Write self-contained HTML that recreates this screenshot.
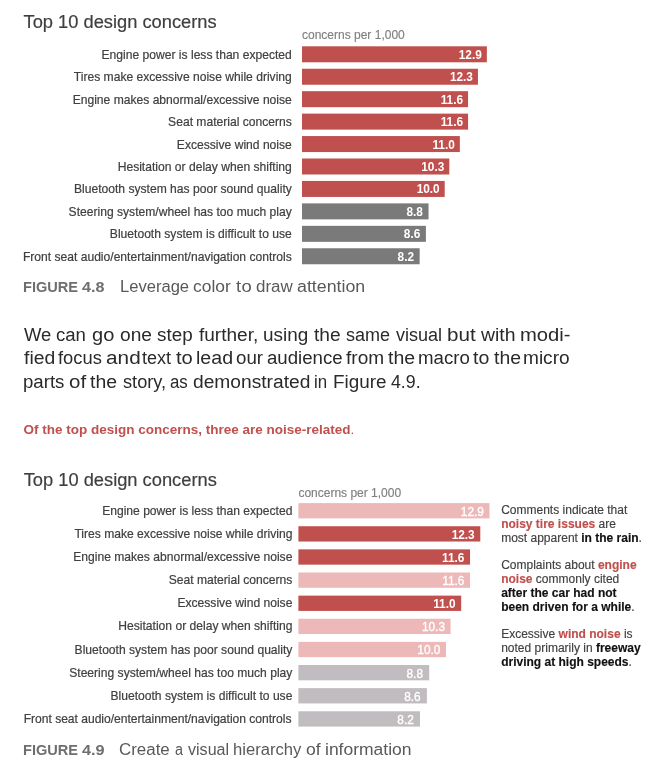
<!DOCTYPE html>
<html lang="en">
<head>
<meta charset="utf-8">
<title>Top 10 design concerns</title>
<style>
html,body{margin:0;padding:0;background:#fff;}
body{width:668px;height:776px;position:relative;overflow:hidden;font-family:"Liberation Sans",Arial,Helvetica,sans-serif;color:#404040;}
.bars{position:absolute;left:0;top:0;}
.lab{-webkit-text-stroke:0.2px currentColor;position:absolute;text-align:right;font-size:12.1px;line-height:14px;white-space:nowrap;color:#404040;}
.val{position:absolute;text-align:right;font-size:11.85px;line-height:14px;white-space:nowrap;color:#fff;}
.val.b{font-weight:bold;}
.val:not(.b){-webkit-text-stroke:0.35px #fff;}
.t{position:absolute;white-space:nowrap;}
.w{position:absolute;top:0;transform-origin:0 0;white-space:nowrap;}
.title{color:#3f3f3f;-webkit-text-stroke:0.2px currentColor;}
.axis{color:#808080;-webkit-text-stroke:0.15px currentColor;}
.fig{color:#6e6e6e;}
.cap{color:#595959;}
.body{color:#2a2a2a;}
.redline{color:#c0504d;}
.ann{color:#404040;-webkit-text-stroke:0.15px currentColor;}
.ann b.r{color:#c0504d;}
.ann b.k{color:#111;}
</style>
</head>
<body>
<svg class="bars" width="668" height="776" viewBox="0 0 668 776">
<rect x="302.00" y="46.30" width="184.85" height="16.00" fill="#c0504d"/>
<rect x="302.00" y="68.74" width="175.96" height="16.00" fill="#c0504d"/>
<rect x="302.00" y="91.18" width="166.08" height="16.00" fill="#c0504d"/>
<rect x="302.00" y="113.62" width="166.08" height="16.00" fill="#c0504d"/>
<rect x="302.00" y="136.06" width="157.84" height="16.00" fill="#c0504d"/>
<rect x="302.00" y="158.50" width="147.30" height="16.00" fill="#c0504d"/>
<rect x="302.00" y="180.94" width="142.70" height="16.00" fill="#c0504d"/>
<rect x="302.00" y="203.38" width="126.55" height="16.00" fill="#7a7a7a"/>
<rect x="302.00" y="225.82" width="123.90" height="16.00" fill="#7a7a7a"/>
<rect x="302.00" y="248.26" width="117.66" height="16.00" fill="#7a7a7a"/>
<rect x="298.40" y="503.10" width="191.10" height="15.30" fill="#edb9b8"/>
<rect x="298.40" y="526.23" width="181.90" height="15.30" fill="#c0504d"/>
<rect x="298.40" y="549.36" width="171.65" height="15.30" fill="#c0504d"/>
<rect x="298.40" y="572.49" width="171.65" height="15.30" fill="#edb9b8"/>
<rect x="298.40" y="595.62" width="162.80" height="15.30" fill="#c0504d"/>
<rect x="298.40" y="618.75" width="152.20" height="15.30" fill="#edb9b8"/>
<rect x="298.40" y="641.88" width="147.60" height="15.30" fill="#edb9b8"/>
<rect x="298.40" y="665.01" width="130.80" height="15.30" fill="#c0bcbf"/>
<rect x="298.40" y="688.14" width="128.50" height="15.30" fill="#c0bcbf"/>
<rect x="298.40" y="711.27" width="121.60" height="15.30" fill="#c0bcbf"/>
</svg>
<div class="t title" style="left:23.50px;top:10.96px;font-size:18.3px;line-height:22px;">Top 10 design concerns</div>
<div class="t axis" style="left:302.00px;top:27.64px;font-size:12px;line-height:14px;">concerns per 1,000</div>
<div class="lab" style="left:0;width:291.80px;top:47.84px;">Engine power is less than expected</div>
<div class="val b" style="left:302.00px;width:179.85px;top:47.84px">12.9</div>
<div class="lab" style="left:0;width:291.80px;top:70.28px;">Tires make excessive noise while driving</div>
<div class="val b" style="left:302.00px;width:170.96px;top:70.28px">12.3</div>
<div class="lab" style="left:0;width:291.80px;top:92.72px;">Engine makes abnormal/excessive noise</div>
<div class="val b" style="left:302.00px;width:161.08px;top:92.72px">11.6</div>
<div class="lab" style="left:0;width:291.80px;top:115.16px;">Seat material concerns</div>
<div class="val b" style="left:302.00px;width:161.08px;top:115.16px">11.6</div>
<div class="lab" style="left:0;width:291.80px;top:137.60px;">Excessive wind noise</div>
<div class="val b" style="left:302.00px;width:152.84px;top:137.60px">11.0</div>
<div class="lab" style="left:0;width:291.80px;top:160.04px;">Hesitation or delay when shifting</div>
<div class="val b" style="left:302.00px;width:142.30px;top:160.04px">10.3</div>
<div class="lab" style="left:0;width:291.80px;top:182.48px;">Bluetooth system has poor sound quality</div>
<div class="val b" style="left:302.00px;width:137.70px;top:182.48px">10.0</div>
<div class="lab" style="left:0;width:291.80px;top:204.92px;">Steering system/wheel has too much play</div>
<div class="val b" style="left:302.00px;width:120.95px;top:204.92px">8.8</div>
<div class="lab" style="left:0;width:291.80px;top:227.36px;">Bluetooth system is difficult to use</div>
<div class="val b" style="left:302.00px;width:118.30px;top:227.36px">8.6</div>
<div class="lab" style="left:0;width:291.80px;top:249.80px;">Front seat audio/entertainment/navigation controls</div>
<div class="val b" style="left:302.00px;width:112.06px;top:249.80px">8.2</div>
<div class="t fig" style="left:0;top:277.13px;font-size:15.5px;line-height:19px;font-weight:bold;"><span class="w" style="left:23.16px;transform:scaleX(0.9404)">FIGURE</span> <span class="w" style="left:82.34px;transform:scaleX(1.0443)">4.8</span></div>
<div class="t cap" style="left:0;top:276.96px;font-size:16px;line-height:19px;"><span class="w" style="left:119.88px;transform:scaleX(1.0352)">Leverage</span> <span class="w" style="left:193.42px;transform:scaleX(1.0874)">color</span> <span class="w" style="left:236.11px;letter-spacing:0.234px;transform:scaleX(1.1500)">to</span> <span class="w" style="left:255.54px;transform:scaleX(1.0588)">draw</span> <span class="w" style="left:296.51px;transform:scaleX(1.1113)">attention</span></div>
<div class="t body" style="left:0;top:323.76px;font-size:18px;line-height:22px;"><span class="w" style="left:23.97px;transform:scaleX(1.0252)">We</span> <span class="w" style="left:56.33px;transform:scaleX(1.0323)">can</span> <span class="w" style="left:91.66px;transform:scaleX(1.1135)">go</span> <span class="w" style="left:119.70px;transform:scaleX(1.0632)">one</span> <span class="w" style="left:157.38px;transform:scaleX(1.0473)">step</span> <span class="w" style="left:199.14px;transform:scaleX(1.0568)">further,</span> <span class="w" style="left:263.02px;transform:scaleX(1.0503)">using</span> <span class="w" style="left:313.63px;transform:scaleX(1.0625)">the</span> <span class="w" style="left:346.20px;transform:scaleX(1.0012)">same</span> <span class="w" style="left:395.67px;transform:scaleX(1.0011)">visual</span> <span class="w" style="left:446.71px;transform:scaleX(1.1453)">but</span> <span class="w" style="left:481.30px;transform:scaleX(1.0785)">with</span> <span class="w" style="left:520.10px;transform:scaleX(1.1233)">modi-</span></div>
<div class="t body" style="left:0;top:347.36px;font-size:18px;line-height:22px;"><span class="w" style="left:23.83px;transform:scaleX(1.0751)">fied</span> <span class="w" style="left:57.95px;transform:scaleX(1.0184)">focus</span> <span class="w" style="left:105.64px;letter-spacing:0.068px;transform:scaleX(1.1500)">and</span> <span class="w" style="left:142.25px;transform:scaleX(0.9991)">text</span> <span class="w" style="left:175.72px;transform:scaleX(1.1214)">to</span> <span class="w" style="left:195.74px;transform:scaleX(1.0877)">lead</span> <span class="w" style="left:235.72px;transform:scaleX(1.0400)">our</span> <span class="w" style="left:266.62px;transform:scaleX(1.0350)">audience</span> <span class="w" style="left:346.14px;transform:scaleX(1.0580)">from</span> <span class="w" style="left:387.63px;transform:scaleX(1.0833)">the</span> <span class="w" style="left:417.50px;transform:scaleX(1.0375)">macro</span> <span class="w" style="left:472.73px;transform:scaleX(1.0857)">to</span> <span class="w" style="left:493.73px;transform:scaleX(1.0792)">the</span> <span class="w" style="left:523.48px;transform:scaleX(1.0595)">micro</span></div>
<div class="t body" style="left:0;top:370.76px;font-size:18px;line-height:22px;"><span class="w" style="left:22.94px;transform:scaleX(1.0353)">parts</span> <span class="w" style="left:69.35px;transform:scaleX(1.1368)">of</span> <span class="w" style="left:90.23px;transform:scaleX(1.0792)">the</span> <span class="w" style="left:123.10px;transform:scaleX(1.0099)">story,</span> <span class="w" style="left:170.00px;transform:scaleX(0.9362)">as</span> <span class="w" style="left:192.50px;transform:scaleX(1.0664)">demonstrated</span> <span class="w" style="left:314.43px;transform:scaleX(0.9376)">in</span> <span class="w" style="left:332.93px;transform:scaleX(1.0482)">Figure</span> <span class="w" style="left:390.83px;transform:scaleX(0.9857)">4.9.</span></div>
<div class="t redline" style="left:23.50px;top:421.92px;font-size:13.5px;line-height:16px;"><b>Of the top design concerns, three are noise-related</b>.</div>
<div class="t title" style="left:23.70px;top:469.26px;font-size:18.3px;line-height:22px;">Top 10 design concerns</div>
<div class="t axis" style="left:298.40px;top:486.24px;font-size:12px;line-height:14px;">concerns per 1,000</div>
<div class="lab" style="left:0;width:292.40px;top:503.84px;">Engine power is less than expected</div>
<div class="val" style="left:298.40px;width:185.50px;top:504.64px">12.9</div>
<div class="lab" style="left:0;width:292.40px;top:526.97px;">Tires make excessive noise while driving</div>
<div class="val b" style="left:298.40px;width:176.30px;top:527.77px">12.3</div>
<div class="lab" style="left:0;width:292.40px;top:550.10px;">Engine makes abnormal/excessive noise</div>
<div class="val b" style="left:298.40px;width:166.05px;top:550.90px">11.6</div>
<div class="lab" style="left:0;width:292.40px;top:573.23px;">Seat material concerns</div>
<div class="val" style="left:298.40px;width:166.05px;top:574.03px">11.6</div>
<div class="lab" style="left:0;width:292.40px;top:596.36px;">Excessive wind noise</div>
<div class="val b" style="left:298.40px;width:157.20px;top:597.16px">11.0</div>
<div class="lab" style="left:0;width:292.40px;top:619.49px;">Hesitation or delay when shifting</div>
<div class="val" style="left:298.40px;width:146.60px;top:620.29px">10.3</div>
<div class="lab" style="left:0;width:292.40px;top:642.62px;">Bluetooth system has poor sound quality</div>
<div class="val" style="left:298.40px;width:142.00px;top:643.42px">10.0</div>
<div class="lab" style="left:0;width:292.40px;top:665.75px;">Steering system/wheel has too much play</div>
<div class="val" style="left:298.40px;width:124.60px;top:666.55px">8.8</div>
<div class="lab" style="left:0;width:292.40px;top:688.88px;">Bluetooth system is difficult to use</div>
<div class="val" style="left:298.40px;width:122.30px;top:689.68px">8.6</div>
<div class="lab" style="left:0;width:291.50px;top:712.01px;letter-spacing:-0.022px;">Front seat audio/entertainment/navigation controls</div>
<div class="val" style="left:298.40px;width:115.40px;top:712.81px">8.2</div>
<div class="t fig" style="left:0;top:740.13px;font-size:15.5px;line-height:19px;font-weight:bold;"><span class="w" style="left:23.16px;transform:scaleX(0.9404)">FIGURE</span> <span class="w" style="left:82.34px;transform:scaleX(1.0506)">4.9</span></div>
<div class="t cap" style="left:0;top:739.96px;font-size:16px;line-height:19px;"><span class="w" style="left:119.48px;transform:scaleX(1.0566)">Create</span> <span class="w" style="left:174.54px;transform:scaleX(0.8970)">a</span> <span class="w" style="left:188.17px;transform:scaleX(1.0038)">visual</span> <span class="w" style="left:233.23px;transform:scaleX(1.0383)">hierarchy</span> <span class="w" style="left:305.91px;transform:scaleX(1.0980)">of</span> <span class="w" style="left:324.77px;transform:scaleX(1.0935)">information</span></div>
<div class="t ann" style="left:501.20px;top:502.74px;font-size:12px;line-height:14px;">Comments indicate that</div>
<div class="t ann" style="left:501.20px;top:516.54px;font-size:12px;line-height:14px;"><b class="r">noisy tire issues</b> are</div>
<div class="t ann" style="left:501.20px;top:530.94px;font-size:12px;line-height:14px;">most apparent <b class="k">in the rain</b>.</div>
<div class="t ann" style="left:501.20px;top:557.94px;font-size:12px;line-height:14px;">Complaints about <b class="r">engine</b></div>
<div class="t ann" style="left:501.20px;top:571.74px;font-size:12px;line-height:14px;"><b class="r">noise</b> commonly cited</div>
<div class="t ann" style="left:501.20px;top:585.54px;font-size:12px;line-height:14px;"><b class="k">after the car had not</b></div>
<div class="t ann" style="left:501.20px;top:599.94px;font-size:12px;line-height:14px;"><b class="k">been driven for a while</b>.</div>
<div class="t ann" style="left:501.20px;top:626.94px;font-size:12px;line-height:14px;">Excessive <b class="r">wind noise</b> is</div>
<div class="t ann" style="left:501.20px;top:640.74px;font-size:12px;line-height:14px;">noted primarily in <b class="k">freeway</b></div>
<div class="t ann" style="left:501.20px;top:654.54px;font-size:12px;line-height:14px;"><b class="k">driving at high speeds</b>.</div>
</body>
</html>
